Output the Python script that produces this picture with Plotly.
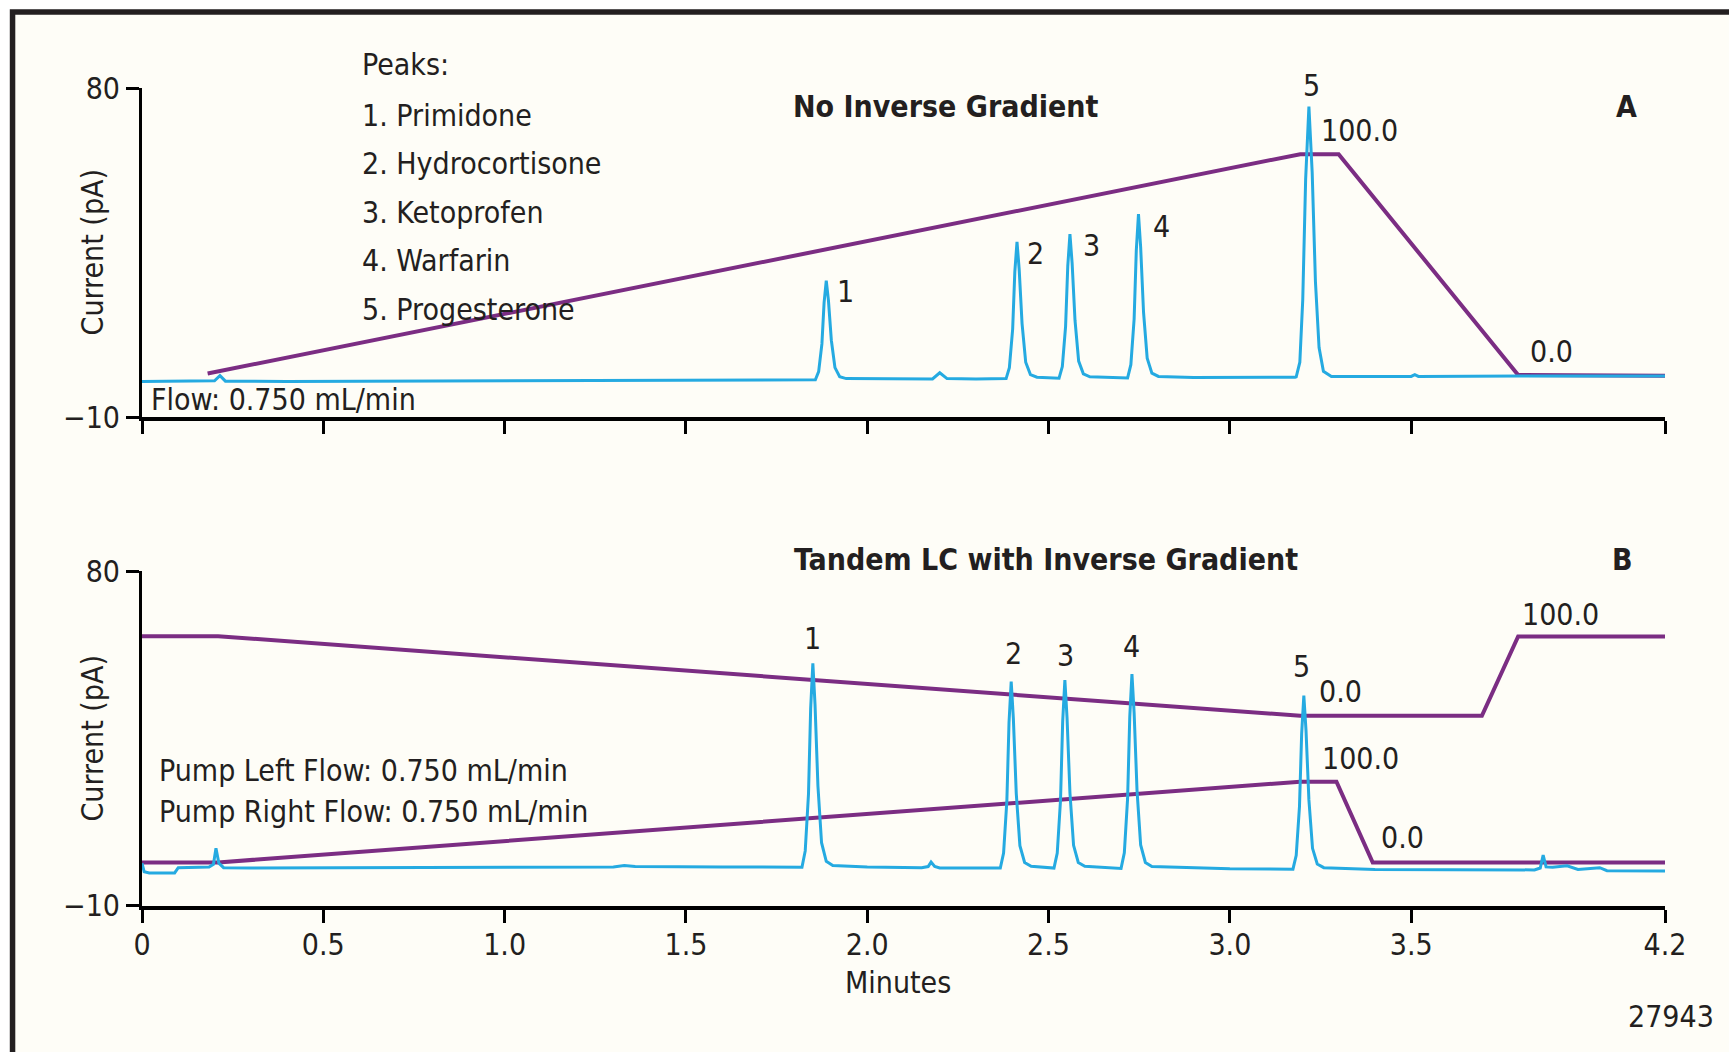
import plotly.graph_objects as go

# ---------------- Panel A : No Inverse Gradient ----------------
a_time = [0.00, 0.18, 0.200, 0.215, 0.230, 0.40, 1.00, 1.54,
          1.857, 1.866, 1.875, 1.881, 1.887, 1.893, 1.901, 1.911, 1.924, 1.942,
          2.10, 2.18, 2.200, 2.22, 2.30,
          2.383, 2.392, 2.401, 2.407, 2.413, 2.419, 2.427, 2.437, 2.450, 2.468,
          2.529, 2.538, 2.547, 2.553, 2.559, 2.565, 2.573, 2.583, 2.596, 2.614,
          2.70, 2.718, 2.727, 2.736, 2.742, 2.748, 2.754, 2.762, 2.772, 2.785, 2.803,
          2.90, 3.18, 3.183, 3.193, 3.201, 3.209, 3.218, 3.227, 3.236, 3.246, 3.258, 3.280,
          3.50, 3.51, 3.52, 3.80, 4.20]
a_current = [-0.3, -0.3, -0.1, 1.3, -0.2, -0.3, -0.1, 0.1,
             0.2, 2.4, 10.0, 21.3, 27.3, 21.9, 11.0, 3.5, 1.0, 0.5,
             0.3, 0.4, 2.1, 0.5, 0.4,
             0.5, 3.5, 14.0, 29.7, 37.9, 30.4, 15.5, 5.0, 1.6, 0.9,
             0.6, 3.8, 14.8, 31.3, 40.0, 32.1, 16.4, 5.3, 1.8, 1.0,
             0.7, 0.7, 4.3, 16.8, 35.6, 45.5, 36.5, 18.6, 6.1, 2.0, 1.1,
             0.8, 0.9, 1.0, 5.0, 22.0, 55.0, 74.9, 57.0, 27.0, 9.0, 2.5, 1.1,
             1.1, 1.6, 1.1, 1.2, 1.2]
a_grad_time = [0.181, 3.194, 3.300, 3.795, 4.20]
a_grad_value = [1.9, 61.9, 61.9, 1.5, 1.3]

# ---------------- Panel B : Tandem LC with Inverse Gradient ----------------
b_time = [0.000, 0.006, 0.020, 0.090, 0.100, 0.140, 0.185, 0.197, 0.204, 0.212, 0.225, 0.30,
          1.00, 1.30, 1.33, 1.36, 1.60,
          1.820, 1.829, 1.838, 1.844, 1.850, 1.856, 1.864, 1.874, 1.887, 1.905,
          2.00, 2.150, 2.168, 2.176, 2.186, 2.200, 2.30,
          2.367, 2.376, 2.385, 2.391, 2.397, 2.403, 2.411, 2.421, 2.434, 2.452,
          2.515, 2.524, 2.533, 2.539, 2.545, 2.551, 2.559, 2.569, 2.582, 2.600,
          2.700, 2.709, 2.718, 2.724, 2.730, 2.736, 2.744, 2.754, 2.767, 2.785,
          3.000, 3.174, 3.183, 3.192, 3.198, 3.204, 3.210, 3.218, 3.228, 3.241, 3.259,
          3.40, 3.60, 3.840, 3.856, 3.864, 3.872, 3.890, 3.930, 3.960, 4.020, 4.040, 4.20]
b_current = [1.5, -0.8, -1.1, -1.1, 0.3, 0.3, 0.5, 1.2, 5.5, 1.5, 0.3, 0.2,
             0.3, 0.5, 0.9, 0.6, 0.5,
             0.4, 4.8, 20.1, 43.1, 55.2, 44.2, 22.3, 7.0, 2.0, 0.9,
             0.5, 0.3, 0.6, 1.8, 0.6, 0.2, 0.2,
             0.2, 4.2, 18.2, 39.3, 50.3, 40.3, 20.2, 6.2, 1.7, 0.7,
             0.2, 4.2, 18.4, 39.6, 50.7, 40.6, 20.4, 6.3, 1.7, 0.7,
             0.1, 4.3, 18.9, 40.8, 52.3, 41.9, 21.0, 6.4, 1.7, 0.6,
             0.0, -0.1, 3.6, 16.7, 36.3, 46.5, 37.2, 18.5, 5.5, 1.3, 0.3,
             -0.2, -0.3, -0.3, 0.2, 3.7, 0.5, 0.4, 0.8, -0.2, 0.3, -0.5, -0.6]
b_grad_left_time = [0.0, 0.21, 3.194, 3.695, 3.795, 4.20]
b_grad_left_value = [62.5, 62.5, 41.1, 41.1, 62.4, 62.4]
b_grad_right_time = [0.0, 0.21, 3.194, 3.294, 3.394, 4.20]
b_grad_right_value = [1.7, 1.7, 23.4, 23.4, 1.7, 1.7]

# ---------------- ticks & labels ----------------
x_tick_vals = [0, 0.5, 1.0, 1.5, 2.0, 2.5, 3.0, 3.5, 4.2]
x_tick_text = ["0", "0.5", "1.0", "1.5", "2.0", "2.5", "3.0", "3.5", "4.2"]
y_tick_vals = [-10, 80]
y_tick_text = ["\u221210", "80"]
y_range = [-10, 80]
peak_names = ["Primidone", "Hydrocortisone", "Ketoprofen", "Warfarin", "Progesterone"]

# label positions (minutes, pA)
a_peak_label_t = [1.941, 2.464, 2.619, 2.811, 3.224]
a_peak_label_v = [24.3, 34.8, 36.8, 42.2, 80.8]
b_peak_label_t = [1.850, 2.403, 2.548, 2.730, 3.197]
b_peak_label_v = [61.9, 57.9, 57.4, 59.7, 54.3]

FONT = "Liberation Sans Narrow, Arial Narrow, DejaVu Sans Condensed, sans-serif"
TXT = "#231f20"
BLUE = "#25aae1"
PURPLE = "#7b2d83"
CREAM = "#fefdf7"
FS = 30      # regular text
FB = 30      # bold titles

fig = go.Figure()

# purple gradient profiles
fig.add_trace(go.Scatter(x=a_grad_time, y=a_grad_value, mode="lines",
                         line=dict(color=PURPLE, width=4), xaxis="x", yaxis="y"))
fig.add_trace(go.Scatter(x=b_grad_left_time, y=b_grad_left_value, mode="lines",
                         line=dict(color=PURPLE, width=4), xaxis="x2", yaxis="y2"))
fig.add_trace(go.Scatter(x=b_grad_right_time, y=b_grad_right_value, mode="lines",
                         line=dict(color=PURPLE, width=4), xaxis="x2", yaxis="y2"))
# chromatograms
fig.add_trace(go.Scatter(x=a_time, y=a_current, mode="lines",
                         line=dict(color=BLUE, width=3), xaxis="x", yaxis="y"))
fig.add_trace(go.Scatter(x=b_time, y=b_current, mode="lines",
                         line=dict(color=BLUE, width=3), xaxis="x2", yaxis="y2"))

axis_common = dict(showline=True, linecolor="black", ticks="outside",
                   ticklen=13, tickwidth=3, tickcolor="black", showgrid=False,
                   zeroline=False, tickfont=dict(family=FONT, size=FS, color=TXT))

fig.update_layout(
    width=1729, height=1052,
    margin=dict(l=142, r=64, t=88, b=146),
    paper_bgcolor="white", plot_bgcolor="rgba(0,0,0,0)",
    showlegend=False,
    font=dict(family=FONT, size=FS, color=TXT),
    xaxis=dict(domain=[0, 1], anchor="y", range=[0, 4.2], tickvals=x_tick_vals,
               ticktext=x_tick_text, showticklabels=False, linewidth=3.5, **axis_common),
    yaxis=dict(domain=[0.5978, 1], anchor="x", range=y_range, tickvals=y_tick_vals,
               ticktext=y_tick_text, ticklabelstandoff=0, linewidth=3, **axis_common),
    xaxis2=dict(domain=[0, 1], anchor="y2", range=[0, 4.2], tickvals=x_tick_vals,
                ticktext=x_tick_text, ticklabelstandoff=-4, linewidth=3.5, **axis_common),
    yaxis2=dict(domain=[0, 0.4095], anchor="x2", range=y_range, tickvals=y_tick_vals,
                ticktext=y_tick_text, ticklabelstandoff=0, linewidth=3, **axis_common),
)

# outer frame
fig.add_shape(type="rect", xref="paper", yref="paper",
              x0=-0.0850, x1=1.07, y0=-0.22, y1=1.0929,
              line=dict(color="#231f20", width=5.5), fillcolor=CREAM, layer="below")

ann = []
def add(text, x, y, xref, yref, xanchor="center", size=FS, bold=False, angle=0):
    # positions above the axis range are given relative to the axis domain
    if yref in ("y", "y2") and y > y_range[1]:
        y = (y - y_range[0]) / (y_range[1] - y_range[0])
        yref = yref + " domain"
    ann.append(dict(text=("<b>%s</b>" % text) if bold else text, x=x, y=y,
                    xref=xref, yref=yref, xanchor=xanchor, yanchor="middle",
                    showarrow=False, textangle=angle,
                    font=dict(family=FONT, size=size, color=TXT)))

# panel A texts
add("Peaks:", 0.602, 86.3, "x", "y", "left")
for i, name in enumerate(peak_names):
    add("%d. %s" % (i + 1, name), 0.602, 72.6 - 13.3 * i, "x", "y", "left")
add("Flow: 0.750 mL/min", 0.020, -5.3, "x", "y", "left")
add("No Inverse Gradient", 2.217, 74.9, "x", "y", bold=True, size=FB)
add("A", 4.094, 74.9, "x", "y", bold=True, size=FB)
for i in range(5):
    add(str(i + 1), a_peak_label_t[i], a_peak_label_v[i], "x", "y")
add("100.0", 3.245, 68.5, "x", "y", "left")
add("0.0", 3.822, 7.9, "x", "y", "left")

# panel B texts
add("Tandem LC with Inverse Gradient", 2.492, 83.0, "x2", "y2", bold=True, size=FB)
add("B", 4.082, 83.0, "x2", "y2", bold=True, size=FB)
for i in range(5):
    add(str(i + 1), b_peak_label_t[i], b_peak_label_v[i], "x2", "y2")
add("0.0", 3.240, 47.6, "x2", "y2", "left")
add("100.0", 3.249, 29.7, "x2", "y2", "left")
add("0.0", 3.411, 8.4, "x2", "y2", "left")
add("100.0", 3.800, 68.4, "x2", "y2", "left")
add("Pump Left Flow: 0.750 mL/min", 0.041, 26.5, "x2", "y2", "left")
add("Pump Right Flow: 0.750 mL/min", 0.041, 15.3, "x2", "y2", "left")

# axis titles & footer
add("Current (pA)", -0.0322, 35, "paper", "y", angle=-90)
add("Current (pA)", -0.0322, 35, "paper", "y2", angle=-90)
add("Minutes", 2.085, -0.0941, "x2", "paper")
add("27943", 1.0335, -0.1345, "paper", "paper", "right")

fig.update_layout(annotations=ann)
fig.write_html("out.html")
